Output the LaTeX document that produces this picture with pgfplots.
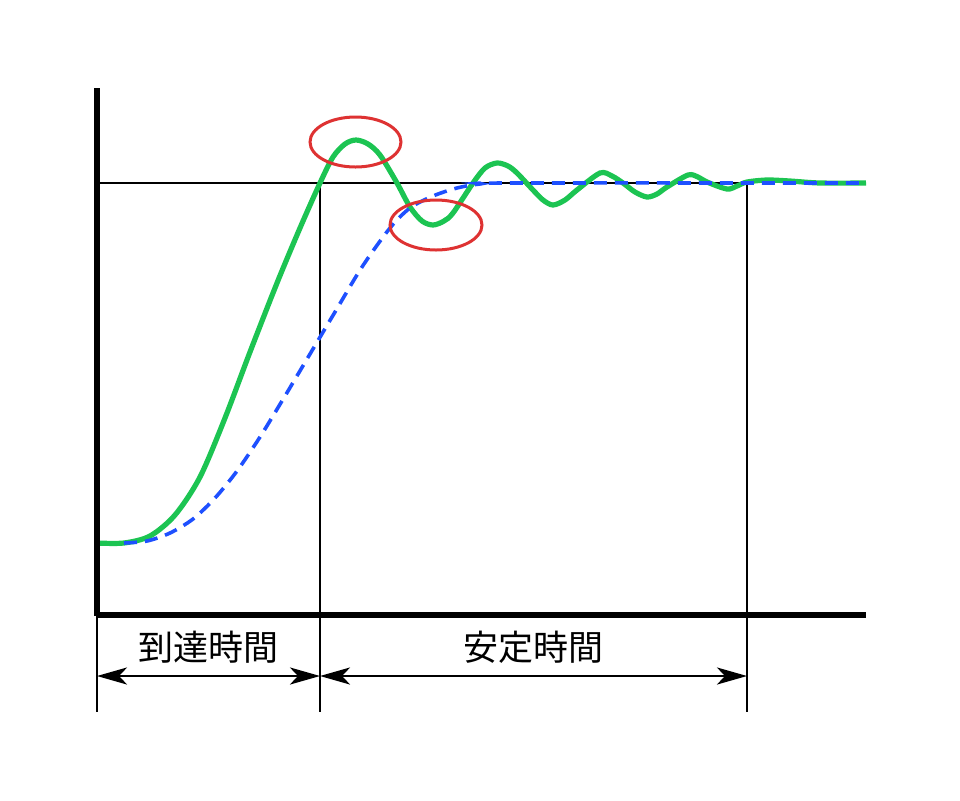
\documentclass[border=0pt]{standalone}
\usepackage{pgfplots}
\pgfplotsset{compat=1.18}
\usepackage{fontspec}
\newfontfamily\cjk{Noto Sans CJK JP}
\usetikzlibrary{arrows.meta}
\definecolor{curvegreen}{RGB}{28,196,82}
\definecolor{dashblue}{RGB}{30,80,255}
\definecolor{ringred}{RGB}{222,50,50}
\begin{document}
\begin{tikzpicture}
\begin{axis}[
  scale only axis, width=480pt, height=400pt,
  xmin=0, xmax=960, ymin=0, ymax=800, y dir=reverse,
  hide axis, clip=false]
\path[draw=none] (rel axis cs:0,0) rectangle (rel axis cs:1,1);
% thin guide lines
\addplot[black, line width=0.65pt] coordinates {(97,183) (747,183)};
\addplot[black, line width=0.65pt] coordinates {(320,183) (320,712)};
\addplot[black, line width=0.65pt] coordinates {(747,183) (747,712)};
\addplot[black, line width=0.65pt] coordinates {(97,615) (97,712)};
% step responses
\addplot[curvegreen, line width=2.6pt, smooth, tension=0.5] coordinates {
  (97,543) (124,543) (150,536) (175,515) (200,477) (225,418) (250,352)
  (277,283) (300,228) (320,183) (333,157) (345,144) (356,140) (368,144)
  (380,155) (397,183) (410,207) (422,221) (433,225) (444,221) (453,213)
  (473,183) (485,168) (497,163) (508,166) (517,173) (533,190) (543,200)
  (553,205) (565,200) (577,190) (600,173) (612,176) (623,183) (635,192)
  (647,197) (657,194) (667,187) (688,175) (698,177) (707,182) (727,189)
  (737,186) (747,182) (767,180) (790,181) (820,183) (866,183)
};
\addplot[dashblue, line width=1.8pt, dash pattern=on 6.5pt off 4pt, smooth, tension=0.5] coordinates {
  (124,543) (147,541) (170,533) (193,519) (215,498) (237,471) (260,437)
  (285,396) (310,354) (335,312) (362,267) (390,228) (410,208) (433,196)
  (457,188) (480,184) (510,183) (866,183)
};
% axes
\addplot[black, line width=2.8pt] coordinates {(97,88) (97,616.4)};
\addplot[black, line width=2.6pt] coordinates {(95.6,615) (866,615)};
% highlight rings
\draw[ringred, line width=1.5pt] (axis cs:355.5,142) ellipse [x radius=22.75pt, y radius=12.5pt];
\draw[ringred, line width=1.5pt] (axis cs:436,225) ellipse [x radius=23pt, y radius=12.5pt];
% time spans
\tikzset{spanarrow/.style={line width=1.4pt,
  {Stealth[length=15pt,width=8.5pt,inset=4pt]}-{Stealth[length=15pt,width=8.5pt,inset=4pt]}}}
\draw[spanarrow] (axis cs:97,676) -- (axis cs:320,676);
\draw[spanarrow] (axis cs:320,676) -- (axis cs:747,676);
\node[font=\cjk\fontsize{17.5}{18}\selectfont] at (axis cs:208.5,647) {到達時間};
\node[font=\cjk\fontsize{17.5}{18}\selectfont] at (axis cs:533.5,647) {安定時間};
\end{axis}
\end{tikzpicture}
\end{document}
